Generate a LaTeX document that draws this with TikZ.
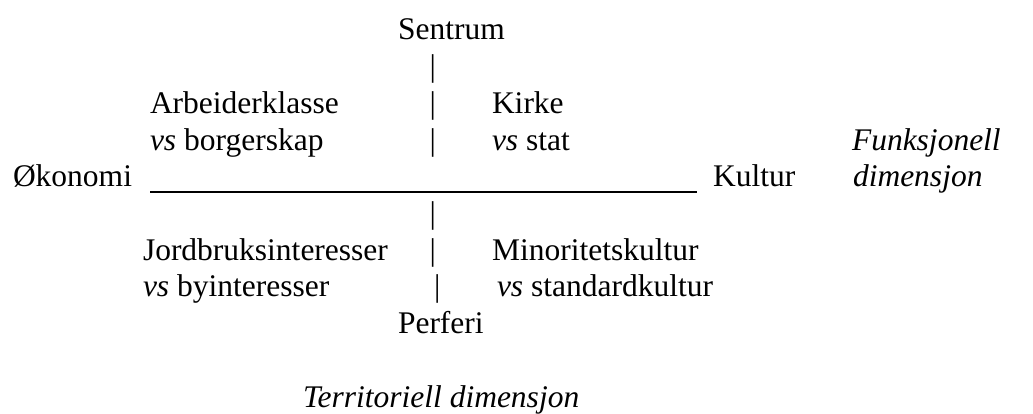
\documentclass[tikz,border=0pt]{standalone}
\usepackage{fontspec}
\setmainfont{Liberation Serif}
\begin{document}
\begin{tikzpicture}[x=1pt,y=-1pt,
  lbl/.style={inner sep=0pt, outer sep=0pt, anchor=base west, font=\fontsize{31.5}{36}\selectfont},
  axisline/.style={line width=1.5pt}]
\useasboundingbox (0,0) rectangle (1033,414);
% top
\node[lbl] (sentrum) at (398,40) {Sentrum};
\node[lbl] (bar1) at (429.5,76.7) {|};
\node[lbl] (arb) at (150,113.4) {Arbeiderklasse};
\node[lbl] (bar2) at (429.5,113.4) {|};
\node[lbl] (kirke) at (492,113.4) {Kirke};
\node[lbl] (borg) at (150,150.1) {\textit{vs} borgerskap};
\node[lbl] (bar3) at (429.5,150.1) {|};
\node[lbl] (stat) at (492,150.1) {\textit{vs} stat};
\node[lbl] (funk) at (852,150.1) {\textit{Funksjonell}};
% middle
\node[lbl] (okonomi) at (13,186.8) {Økonomi};
\coordinate (lineL) at (150,192);
\coordinate (lineR) at (697,192);
\draw[axisline] (lineL) -- (lineR);
\node[lbl] (kultur) at (713,186.8) {Kultur};
\node[lbl] (dim) at (853,186.8) {\textit{dimensjon}};
% bottom
\node[lbl] (bar4) at (429.5,223.5) {|};
\node[lbl] (jord) at (143,260.2) {Jordbruksinteresser};
\node[lbl] (bar5) at (429.5,260.2) {|};
\node[lbl] (mino) at (492,260.2) {Minoritetskultur};
\node[lbl] (by) at (143,296.9) {\textit{vs} byinteresser};
\node[lbl] (bar6) at (434,296.9) {|};
\node[lbl] (std) at (497,296.9) {\textit{vs} standardkultur};
\node[lbl] (perferi) at (398,333.6) {Perferi};
\node[lbl] (terr) at (303,407) {\textit{Territoriell dimensjon}};
\end{tikzpicture}
\end{document}
